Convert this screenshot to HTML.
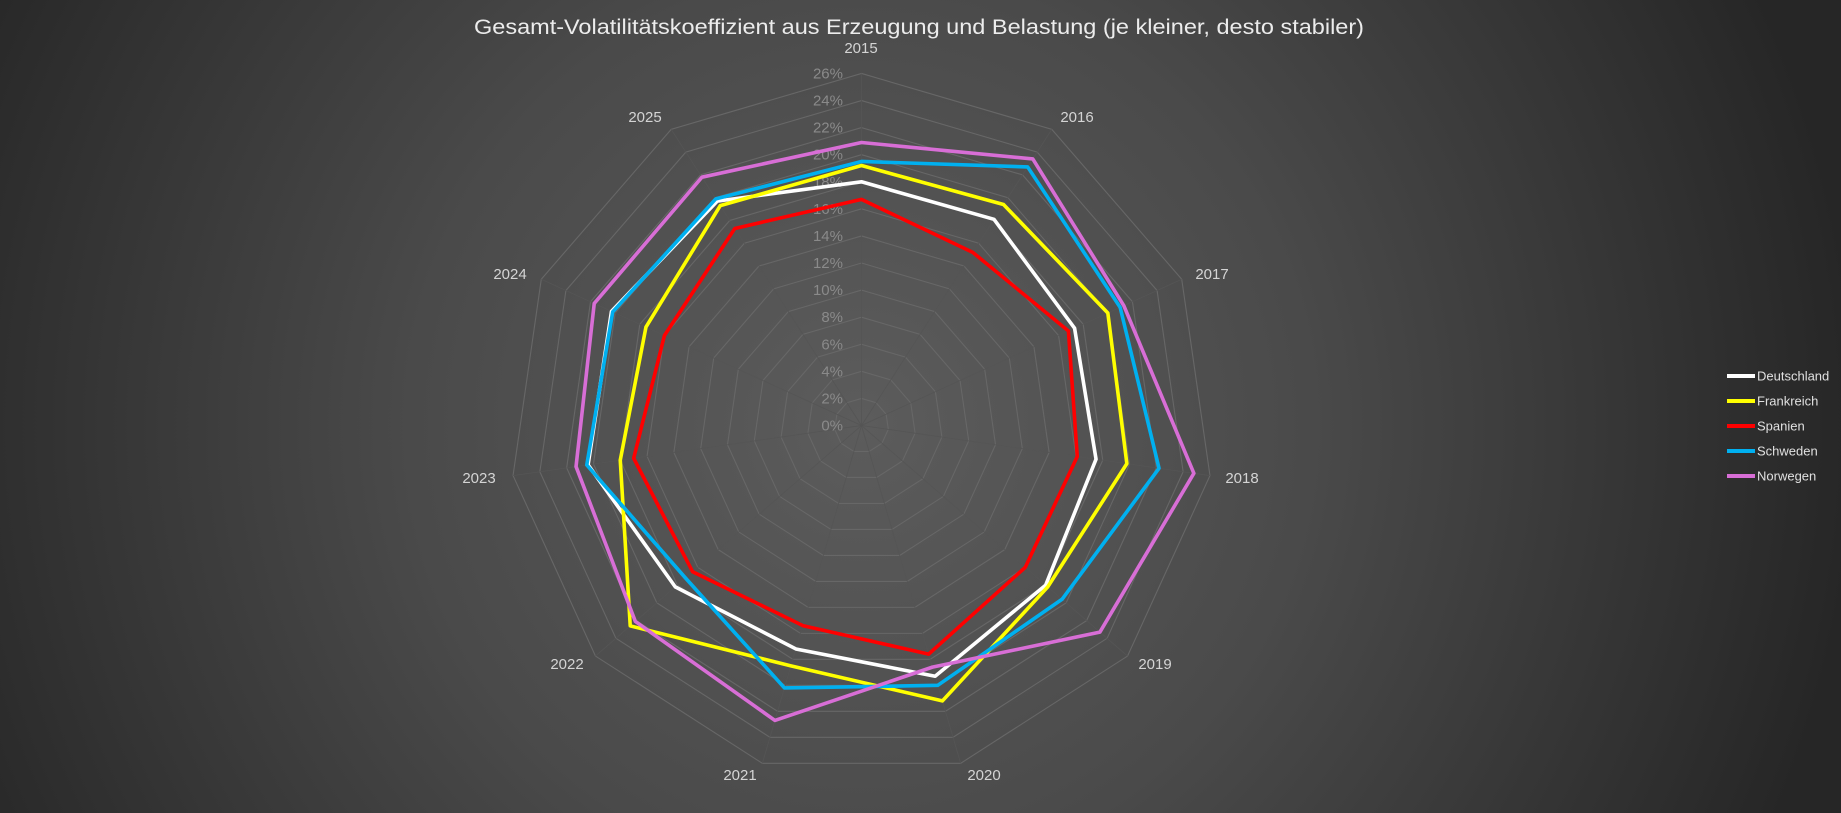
<!DOCTYPE html>
<html><head><meta charset="utf-8"><style>
html,body{margin:0;padding:0;background:#262626;}
svg{display:block;}
text{font-family:"Liberation Sans",sans-serif;}
</style></head><body>
<svg id="c" width="1841" height="813" viewBox="0 0 1841 813" xmlns="http://www.w3.org/2000/svg">
<defs>
<radialGradient id="bg" cx="861" cy="425" r="1000" gradientUnits="userSpaceOnUse">
<stop offset="0" stop-color="#5c5c5c"/><stop offset="0.45" stop-color="#4a4a4a"/><stop offset="1" stop-color="#262626"/>
</radialGradient>
</defs>
<rect width="1841" height="813" fill="url(#bg)"/>
<text x="919" y="34" text-anchor="middle" font-size="21" fill="#ececec" textLength="890" lengthAdjust="spacingAndGlyphs">Gesamt-Volatilitätskoeffizient aus Erzeugung und Belastung (je kleiner, desto stabiler)</text>
<g id="grid"></g>
<g id="ticks"></g>
<g id="series"></g>
<g id="cats"></g>
<g font-size="13" fill="#e0e0e0">
<line x1="1727" y1="376" x2="1755" y2="376" stroke="#fff" stroke-width="4"/><text x="1757" y="380.5">Deutschland</text>
<line x1="1727" y1="401" x2="1755" y2="401" stroke="#ffff00" stroke-width="4"/><text x="1757" y="405.5">Frankreich</text>
<line x1="1727" y1="426" x2="1755" y2="426" stroke="#ff0000" stroke-width="4"/><text x="1757" y="430.5">Spanien</text>
<line x1="1727" y1="451" x2="1755" y2="451" stroke="#00b0f0" stroke-width="4"/><text x="1757" y="455.5">Schweden</text>
<line x1="1727" y1="476" x2="1755" y2="476" stroke="#d86ed6" stroke-width="4"/><text x="1757" y="480.5">Norwegen</text>
</g>
</svg>
<script>
var NS="http://www.w3.org/2000/svg",cx=861.5,cy=425.5,k=13.54,N=11;
function pt(i,v){var a=i*2*Math.PI/N;return [cx+v*k*Math.sin(a),cy-v*k*Math.cos(a)];}
function el(t,at,p,txt){var e=document.createElementNS(NS,t);for(var q in at)e.setAttribute(q,at[q]);if(txt)e.textContent=txt;document.getElementById(p).appendChild(e);return e;}
for(var g=2;g<=26;g+=2){var s=[];for(var i=0;i<N;i++)s.push(pt(i,g).join(","));el("polygon",{points:s.join(" "),fill:"none",stroke:"#676767","stroke-width":1.1},"grid");}
for(var i=0;i<N;i++){var p=pt(i,26);el("line",{x1:cx,y1:cy,x2:p[0],y2:p[1],stroke:"#555","stroke-width":0.8},"grid");}
for(var g=0;g<=26;g+=2){el("text",{x:843,y:cy-g*k+5,"text-anchor":"end","font-size":15,fill:"#8a8a8a"},"ticks",g+"%");}
var yrs=[2015,2016,2017,2018,2019,2020,2021,2022,2023,2024,2025];
var pos=[[861,48],[1077,117],[1212,274],[1242,478],[1155,664],[984,775],[740,775],[567,664],[479,478],[510,274],[645,117]];
for(var i=0;i<N;i++){el("text",{x:pos[i][0],y:pos[i][1]+5,"text-anchor":"middle","font-size":15,fill:"#d4d4d4"},"cats",yrs[i]);}
var D=[
["#ffffff",[18.0,18.1,17.3,17.5,18.0,19.3,17.2,18.2,20.4,20.3,19.7]],
["#ffff00",[19.2,19.4,20.0,19.8,18.2,21.2,18.5,22.6,18.0,17.5,19.3]],
["#ff0000",[16.7,15.2,16.8,16.1,16.0,17.6,15.4,16.5,17.0,16.0,17.3]],
["#00b0f0",[19.5,22.7,21.0,22.2,19.6,20.0,20.2,17.2,20.5,20.2,19.9]],
["#d86ed6",[20.9,23.4,21.3,24.8,23.3,18.6,22.7,22.1,21.3,21.7,21.8]]];
D.forEach(function(d){var s=[];for(var i=0;i<N;i++)s.push(pt(i,d[1][i]).join(","));el("polygon",{points:s.join(" "),fill:"none",stroke:d[0],"stroke-width":3.6,"stroke-linejoin":"round"},"series");});
</script>
</body></html>
